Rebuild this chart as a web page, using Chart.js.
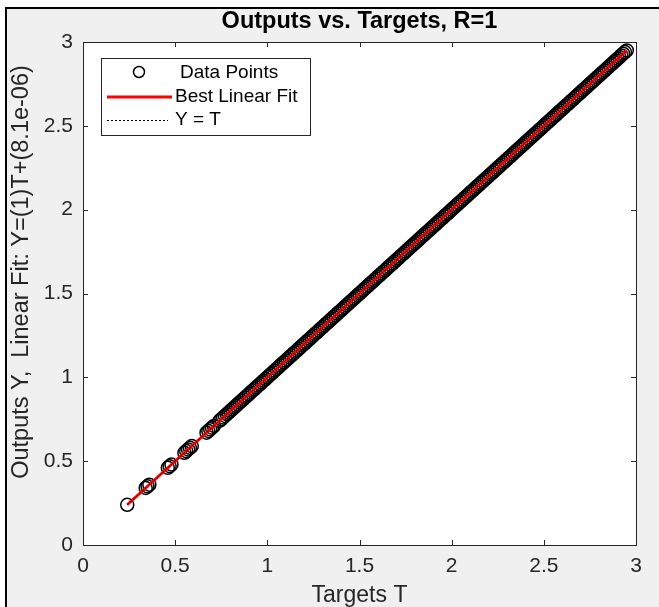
<!DOCTYPE html>
<html lang="en">
<head>
<meta charset="UTF-8">
<title>Outputs vs. Targets, R=1</title>
<script src="https://cdn.jsdelivr.net/npm/chart.js@4.4.1/dist/chart.umd.min.js"></script>
<style>
  * { margin: 0; padding: 0; box-sizing: border-box; }
  body { background: #fff; width: 659px; height: 607px; overflow: hidden; }
  .wrap { position: relative; width: 659px; height: 607px; }
</style>
</head>
<body>
<div class="wrap"><canvas id="regChart"></canvas></div>
<script>
// targets T and network outputs Y (R=1, so Y sits on T)
const targets = [0.24, 0.34, 0.35, 0.36, 0.46, 0.47, 0.48, 0.55, 0.56, 0.57, 0.58, 0.59,
  0.67, 0.68, 0.69, 0.70, 0.71, 0.74, 0.75, 0.76, 0.77, 0.78, 0.79,
  0.80, 0.81, 0.82, 0.83, 0.84, 0.85, 0.86, 0.87, 0.88, 0.89,
  0.90, 0.91, 0.92, 0.93, 0.94, 0.95, 0.96, 0.97, 0.98, 0.99,
  1.00, 1.01, 1.02, 1.03, 1.04, 1.05, 1.06, 1.07, 1.08, 1.09,
  1.10, 1.11, 1.12, 1.13, 1.14, 1.15, 1.16, 1.17, 1.18, 1.19,
  1.20, 1.21, 1.22, 1.23, 1.24, 1.25, 1.26, 1.27, 1.28, 1.29,
  1.30, 1.31, 1.32, 1.33, 1.34, 1.35, 1.36, 1.37, 1.38, 1.39,
  1.40, 1.41, 1.42, 1.43, 1.44, 1.45, 1.46, 1.47, 1.48, 1.49,
  1.50, 1.51, 1.52, 1.53, 1.54, 1.55, 1.56, 1.57, 1.58, 1.59,
  1.60, 1.61, 1.62, 1.63, 1.64, 1.65, 1.66, 1.67, 1.68, 1.69,
  1.70, 1.71, 1.72, 1.73, 1.74, 1.75, 1.76, 1.77, 1.78, 1.79,
  1.80, 1.81, 1.82, 1.83, 1.84, 1.85, 1.86, 1.87, 1.88, 1.89,
  1.90, 1.91, 1.92, 1.93, 1.94, 1.95, 1.96, 1.97, 1.98, 1.99,
  2.00, 2.01, 2.02, 2.03, 2.04, 2.05, 2.06, 2.07, 2.08, 2.09,
  2.10, 2.11, 2.12, 2.13, 2.14, 2.15, 2.16, 2.17, 2.18, 2.19,
  2.20, 2.21, 2.22, 2.23, 2.24, 2.25, 2.26, 2.27, 2.28, 2.29,
  2.30, 2.31, 2.32, 2.33, 2.34, 2.35, 2.36, 2.37, 2.38, 2.39,
  2.40, 2.41, 2.42, 2.43, 2.44, 2.45, 2.46, 2.47, 2.48, 2.49,
  2.50, 2.51, 2.52, 2.53, 2.54, 2.55, 2.56, 2.57, 2.58, 2.59,
  2.60, 2.61, 2.62, 2.63, 2.64, 2.65, 2.66, 2.67, 2.68, 2.69,
  2.70, 2.71, 2.72, 2.73, 2.74, 2.75, 2.76, 2.77, 2.78, 2.79,
  2.80, 2.81, 2.82, 2.83, 2.84, 2.85, 2.86, 2.87, 2.88, 2.89,
  2.90, 2.91, 2.92, 2.93, 2.94, 2.95];
const outputs = [0.24, 0.34, 0.35, 0.36, 0.46, 0.47, 0.48, 0.55, 0.56, 0.57, 0.58, 0.59,
  0.67, 0.68, 0.69, 0.70, 0.71, 0.74, 0.75, 0.76, 0.77, 0.78, 0.79,
  0.80, 0.81, 0.82, 0.83, 0.84, 0.85, 0.86, 0.87, 0.88, 0.89,
  0.90, 0.91, 0.92, 0.93, 0.94, 0.95, 0.96, 0.97, 0.98, 0.99,
  1.00, 1.01, 1.02, 1.03, 1.04, 1.05, 1.06, 1.07, 1.08, 1.09,
  1.10, 1.11, 1.12, 1.13, 1.14, 1.15, 1.16, 1.17, 1.18, 1.19,
  1.20, 1.21, 1.22, 1.23, 1.24, 1.25, 1.26, 1.27, 1.28, 1.29,
  1.30, 1.31, 1.32, 1.33, 1.34, 1.35, 1.36, 1.37, 1.38, 1.39,
  1.40, 1.41, 1.42, 1.43, 1.44, 1.45, 1.46, 1.47, 1.48, 1.49,
  1.50, 1.51, 1.52, 1.53, 1.54, 1.55, 1.56, 1.57, 1.58, 1.59,
  1.60, 1.61, 1.62, 1.63, 1.64, 1.65, 1.66, 1.67, 1.68, 1.69,
  1.70, 1.71, 1.72, 1.73, 1.74, 1.75, 1.76, 1.77, 1.78, 1.79,
  1.80, 1.81, 1.82, 1.83, 1.84, 1.85, 1.86, 1.87, 1.88, 1.89,
  1.90, 1.91, 1.92, 1.93, 1.94, 1.95, 1.96, 1.97, 1.98, 1.99,
  2.00, 2.01, 2.02, 2.03, 2.04, 2.05, 2.06, 2.07, 2.08, 2.09,
  2.10, 2.11, 2.12, 2.13, 2.14, 2.15, 2.16, 2.17, 2.18, 2.19,
  2.20, 2.21, 2.22, 2.23, 2.24, 2.25, 2.26, 2.27, 2.28, 2.29,
  2.30, 2.31, 2.32, 2.33, 2.34, 2.35, 2.36, 2.37, 2.38, 2.39,
  2.40, 2.41, 2.42, 2.43, 2.44, 2.45, 2.46, 2.47, 2.48, 2.49,
  2.50, 2.51, 2.52, 2.53, 2.54, 2.55, 2.56, 2.57, 2.58, 2.59,
  2.60, 2.61, 2.62, 2.63, 2.64, 2.65, 2.66, 2.67, 2.68, 2.69,
  2.70, 2.71, 2.72, 2.73, 2.74, 2.75, 2.76, 2.77, 2.78, 2.79,
  2.80, 2.81, 2.82, 2.83, 2.84, 2.85, 2.86, 2.87, 2.88, 2.89,
  2.90, 2.91, 2.92, 2.93, 2.94, 2.95];

// best linear fit Y=(1)T+(8.1e-06) and the Y = T reference, end points only
const fitT = [0.24, 2.95];
const fitY = [0.24, 2.95];
const identT = [0.24, 2.95];
const identY = [0.24, 2.95];

const tickValues = [0, 0.5, 1, 1.5, 2, 2.5, 3];
const tickLabels = ['0', '0.5', '1', '1.5', '2', '2.5', '3'];

const titleText = 'Outputs vs. Targets, R=1';
const xTitle = 'Targets T';
const yTitle = 'Outputs Y,  Linear Fit: Y=(1)T+(8.1e-06)';
const legendLabels = ['Data Points', 'Best Linear Fit', 'Y = T'];

const FONT = "'Liberation Sans', Arial, sans-serif";
const AXIS = '#262626';

const toXY = (xs, ys) => xs.map((v, i) => ({ x: v, y: ys[i] }));

const matlabLook = {
  id: 'matlabLook',
  beforeDraw(chart) {
    const { ctx, chartArea: a } = chart;
    ctx.save();
    ctx.fillStyle = '#fff';
    ctx.fillRect(0, 0, chart.width, chart.height);
    ctx.fillStyle = '#f0f0f0';
    ctx.fillRect(6, 8, chart.width - 6, chart.height - 8);
    ctx.strokeStyle = '#000';
    ctx.lineWidth = 2;
    ctx.beginPath();
    ctx.moveTo(6, chart.height);
    ctx.lineTo(6, 8);
    ctx.lineTo(chart.width, 8);
    ctx.stroke();
    ctx.fillStyle = '#fff';
    ctx.fillRect(a.left, a.top, a.right - a.left, a.bottom - a.top);
    ctx.restore();
  },
  afterDatasetsDraw(chart) {
    const { ctx, chartArea: a, scales } = chart;
    ctx.save();
    // box + inward ticks on all four sides
    ctx.strokeStyle = AXIS;
    ctx.lineWidth = 1;
    ctx.strokeRect(a.left + 0.5, a.top + 0.5, a.right - a.left, a.bottom - a.top);
    ctx.beginPath();
    scales.x.ticks.forEach(t => {
      const px = Math.round(scales.x.getPixelForValue(t.value)) + 0.5;
      ctx.moveTo(px, a.bottom); ctx.lineTo(px, a.bottom - 5);
      ctx.moveTo(px, a.top); ctx.lineTo(px, a.top + 5);
    });
    scales.y.ticks.forEach(t => {
      const py = Math.round(scales.y.getPixelForValue(t.value)) + 0.5;
      ctx.moveTo(a.left, py); ctx.lineTo(a.left + 5, py);
      ctx.moveTo(a.right, py); ctx.lineTo(a.right - 5, py);
    });
    ctx.stroke();

    // legend
    ctx.fillStyle = '#fff';
    ctx.fillRect(101, 58, 209, 77);
    ctx.strokeStyle = AXIS;
    ctx.strokeRect(101.5, 58.5, 209, 77);
    ctx.strokeStyle = '#000';
    ctx.lineWidth = 1.5;
    ctx.beginPath();
    ctx.arc(139, 72, 5.5, 0, Math.PI * 2);
    ctx.stroke();
    ctx.strokeStyle = '#ff0000';
    ctx.lineWidth = 3;
    ctx.beginPath();
    ctx.moveTo(107, 97); ctx.lineTo(172, 97);
    ctx.stroke();
    ctx.strokeStyle = '#000';
    ctx.lineWidth = 1;
    ctx.setLineDash([2, 2]);
    ctx.beginPath();
    ctx.moveTo(107, 120.5); ctx.lineTo(168, 120.5);
    ctx.stroke();
    ctx.setLineDash([]);
    ctx.fillStyle = '#000';
    ctx.font = '19px ' + FONT;
    ctx.textBaseline = 'middle';
    ctx.textAlign = 'left';
    ctx.fillText(legendLabels[0], 180, 73);
    ctx.fillText(legendLabels[1], 175, 97);
    ctx.fillText(legendLabels[2], 175, 120);

    // titles
    ctx.fillStyle = '#000';
    ctx.textAlign = 'center';
    ctx.font = 'bold 23.5px ' + FONT;
    ctx.fillText(titleText, (a.left + a.right) / 2, 22);
    ctx.fillStyle = AXIS;
    ctx.font = '23px ' + FONT;
    ctx.fillText(xTitle, (a.left + a.right) / 2, 596);
    ctx.font = '23.5px ' + FONT;
    ctx.translate(22, 272);
    ctx.rotate(-Math.PI / 2);
    ctx.fillText(yTitle, 0, 0);
    ctx.restore();
  }
};

const tickSetup = (s) => { s.ticks = tickValues.map(v => ({ value: v })); };

new Chart(document.getElementById('regChart'), {
  type: 'scatter',
  data: {
    datasets: [
      {
        label: legendLabels[2],
        data: toXY(identT, identY),
        showLine: true,
        borderColor: '#000',
        borderWidth: 1,
        borderDash: [2, 2],
        pointRadius: 0,
        order: 1
      },
      {
        label: legendLabels[1],
        data: toXY(fitT, fitY),
        showLine: true,
        borderColor: '#ff0000',
        borderWidth: 3,
        pointRadius: 0,
        order: 2
      },
      {
        label: legendLabels[0],
        data: toXY(targets, outputs),
        pointStyle: 'circle',
        pointRadius: 6.5,
        pointBorderWidth: 1.5,
        pointBorderColor: '#000',
        pointBackgroundColor: 'rgba(0,0,0,0)',
        order: 3
      }
    ]
  },
  options: {
    responsive: true,
    maintainAspectRatio: false,
    animation: false,
    layout: { padding: { left: 0, top: 42, right: 23, bottom: 0 } },
    plugins: { legend: { display: false }, tooltip: { enabled: false } },
    scales: {
      x: {
        type: 'linear', min: 0, max: 3,
        afterBuildTicks: tickSetup,
        afterFit: s => { s.height = 62; },
        grid: { display: false, drawTicks: false },
        border: { display: false },
        ticks: { callback: (v, i) => tickLabels[i], color: AXIS, font: { family: FONT, size: 21 }, padding: 9, maxRotation: 0 }
      },
      y: {
        type: 'linear', min: 0, max: 3,
        afterBuildTicks: tickSetup,
        afterFit: s => { s.width = 83; },
        grid: { display: false, drawTicks: false },
        border: { display: false },
        ticks: { callback: (v, i) => tickLabels[i], color: AXIS, font: { family: FONT, size: 21 }, padding: 10 }
      }
    }
  },
  plugins: [matlabLook]
});
</script>
</body>
</html>
